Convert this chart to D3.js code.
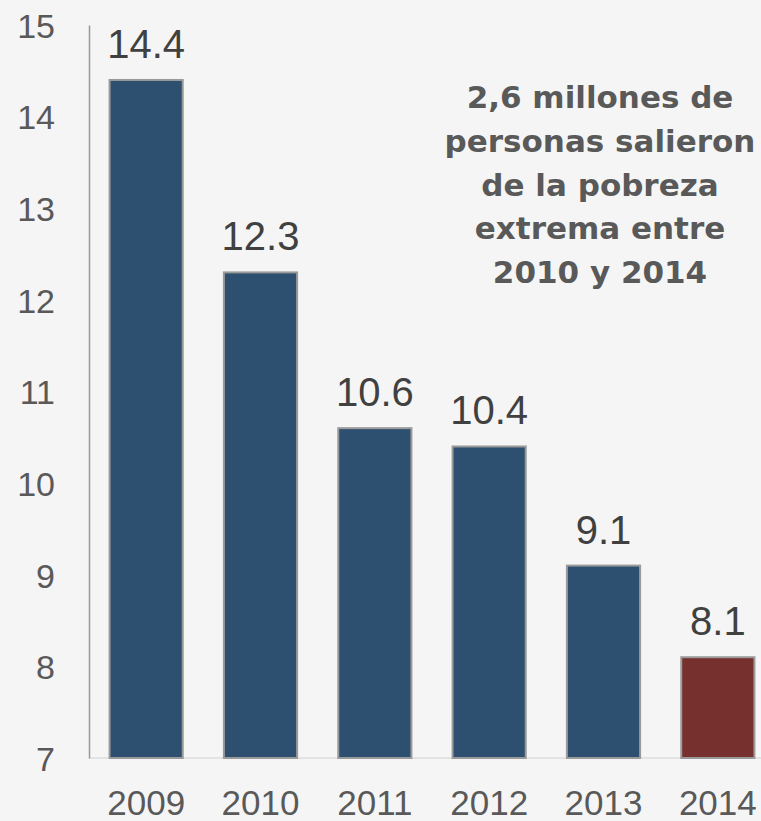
<!DOCTYPE html>
<html><head><meta charset="utf-8">
<script src="https://cdn.jsdelivr.net/npm/d3@7"></script>
<style>html,body{margin:0;padding:0;background:#f5f5f5;}svg{display:block;}</style>
</head><body>
<svg id="c" width="761" height="821"></svg>
<script>
const years = ["2009","2010","2011","2012","2013","2014"];
const values = [14.4, 12.3, 10.6, 10.4, 9.1, 8.1];
const yTicks = [7,8,9,10,11,12,13,14,15];
const noteLines = ["2,6 millones de","personas salieron","de la pobreza","extrema entre","2010 y 2014"];

const svg = d3.select("#c");
svg.append("rect").attr("width",761).attr("height",821).attr("fill","#f5f5f5");

const y = d3.scaleLinear().domain([7,15]).range([758,25]);
const x = d3.scaleBand().domain(years).range([89,775]).paddingInner(0.36).paddingOuter(0.18);

// x baseline
svg.append("line").attr("x1",89).attr("x2",761).attr("y1",y(7)).attr("y2",y(7))
  .attr("stroke","#dcdcdc").attr("stroke-width",1.5);

// y axis
const ya = svg.append("g").attr("transform","translate(89,0)")
  .call(d3.axisLeft(y).tickValues(yTicks).tickSize(0).tickPadding(34).tickFormat(d3.format("d")));
ya.select(".domain").attr("stroke","#999").attr("stroke-width",1.5);
ya.selectAll("text").attr("font-family","Liberation Sans, Arial, sans-serif").attr("font-size",34).attr("fill","#595959").attr("dy","0.36em");

// bars
svg.selectAll("rect.bar").data(years).join("rect").attr("class","bar")
  .attr("x",d=>x(d)).attr("width",x.bandwidth())
  .attr("y",(d,i)=>y(values[i])).attr("height",(d,i)=>y(7)-y(values[i]))
  .attr("fill",(d,i)=> i===years.length-1 ? "#76302d" : "#2e5070")
  .attr("stroke","#9a9a9a").attr("stroke-width",2);

// value labels
svg.selectAll("text.val").data(years).join("text").attr("class","val")
  .attr("x",d=>x(d)+x.bandwidth()/2).attr("y",(d,i)=>y(values[i])-22)
  .attr("text-anchor","middle").attr("font-family","Liberation Sans, Arial, sans-serif")
  .attr("font-size",40).attr("fill","#404040").text((d,i)=>d3.format(".1f")(values[i]));

// x labels
const xa = svg.append("g").attr("transform",`translate(0,${y(7)})`)
  .call(d3.axisBottom(x).tickSize(0).tickPadding(0));
xa.select(".domain").remove();
xa.selectAll("text").attr("font-family","Liberation Sans, Arial, sans-serif").attr("font-size",35)
  .attr("fill","#595959").attr("dy",null).attr("y",57);

// annotation
svg.append("g").selectAll("text").data(noteLines).join("text")
  .attr("x",600).attr("y",(d,i)=>108+i*43.75).attr("text-anchor","middle")
  .attr("font-family","DejaVu Sans, sans-serif").attr("font-weight","bold").attr("font-size",31)
  .attr("fill","#595959").text(d=>d);
</script>
</body></html>
